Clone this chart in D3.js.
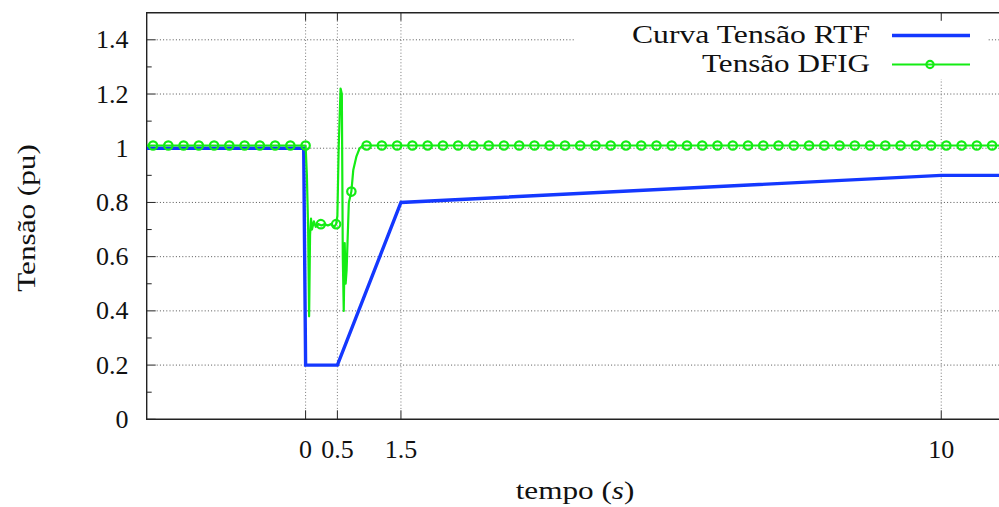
<!DOCTYPE html>
<html>
<head>
<meta charset="utf-8">
<script src="https://cdn.jsdelivr.net/npm/d3@7"></script>
<style>
  body { margin: 0; background: #fff; }
  svg text { font-family: "Liberation Serif", "Times New Roman", serif; fill: #111; }
</style>
</head>
<body>
<div id="chart"></div>
<script>
// RTF curve (blue)
const rtfTime  = [-2.5, -0.03, 0, 0.5, 1.5, 10, 11];
const rtfValue = [1, 1, 0.2, 0.2, 0.8, 0.9, 0.9];

// DFIG voltage (green)
const dfigTime  = [-2.5, 0, 0.02, 0.04, 0.055, 0.07, 0.085, 0.1, 0.13, 0.16, 0.2, 0.25, 0.3, 0.35, 0.4, 0.45, 0.48,
                   0.5, 0.52, 0.55, 0.57, 0.585, 0.6, 0.615, 0.63, 0.645, 0.68, 0.72, 0.75, 0.8, 0.85, 0.9, 11];
const dfigValue = [1.01, 1.01, 0.9, 0.70, 0.38, 0.68, 0.74, 0.70, 0.73, 0.71, 0.72, 0.715, 0.72, 0.715, 0.72, 0.71, 0.72,
                   0.75, 1.0, 1.22, 1.2, 0.6, 0.40, 0.65, 0.5, 0.55, 0.80, 0.84, 0.92, 0.97, 1.0, 1.01, 1.01];

// circle markers on the DFIG curve
const markTime = [-2.4, -2.16, -1.92, -1.68, -1.44, -1.2, -0.96, -0.72, -0.48, -0.24, 0, 0.24, 0.48, 0.72, 0.96,
                  1.2, 1.44, 1.68, 1.92, 2.16, 2.4, 2.64, 2.88, 3.12, 3.36, 3.6, 3.84, 4.08, 4.32, 4.56, 4.8,
                  5.04, 5.28, 5.52, 5.76, 6, 6.24, 6.48, 6.72, 6.96, 7.2, 7.44, 7.68, 7.92, 8.16, 8.4, 8.64,
                  8.88, 9.12, 9.36, 9.6, 9.84, 10.08, 10.32, 10.56, 10.8];
const markValue = markTime.map(function(t) {
  if (t === 0.24 || t === 0.48) return 0.72;
  if (t === 0.72) return 0.84;
  return 1.01;
});

const xTicks = [0, 0.5, 1.5, 10];
const xTickLabels = ["0", "0.5", "1.5", "10"];
const yTicks = [0, 0.2, 0.4, 0.6, 0.8, 1, 1.2, 1.4];
const yTickLabels = ["0", "0.2", "0.4", "0.6", "0.8", "1", "1.2", "1.4"];
const yMinor = [0.1, 0.3, 0.5, 0.7, 0.9, 1.1, 1.3];

const blue = "#1438ff";
const green = "#14ec14";

const W = 999, H = 507;
const pLeft = 146.7, pTop = 12.7, pBottom = 419.3, pRight = 1004.8;

const x = d3.scaleLinear().domain([-2.5, 11]).range([pLeft, pRight]);
const y = d3.scaleLinear().domain([0, 1.5]).range([pBottom, pTop]);

const svg = d3.select("#chart").append("svg")
  .attr("width", W).attr("height", H);

svg.append("defs").append("clipPath").attr("id", "plot")
  .append("rect")
    .attr("x", pLeft).attr("y", pTop)
    .attr("width", pRight - pLeft).attr("height", pBottom - pTop);

// grid
const grid = svg.append("g").attr("class", "grid")
  .attr("stroke", "#555").attr("stroke-width", 1).attr("stroke-dasharray", "1,2.2");
grid.selectAll("line.h").data(yTicks.filter(function(d) { return d > 0; })).enter()
  .append("line").attr("class", "h")
    .attr("x1", pLeft + 10).attr("x2", pRight)
    .attr("y1", function(d) { return y(d); }).attr("y2", function(d) { return y(d); });
grid.selectAll("line.v").data(xTicks).enter()
  .append("line").attr("class", "v")
    .attr("stroke", "#777")
    .attr("y1", pTop + 8).attr("y2", pBottom - 9)
    .attr("x1", function(d) { return x(d); }).attr("x2", function(d) { return x(d); });

// ticks
const ticks = svg.append("g").attr("stroke", "#222").attr("stroke-width", 1);
ticks.selectAll("line.ym").data(yTicks).enter().append("line")
  .attr("x1", pLeft).attr("x2", pLeft + 9)
  .attr("y1", function(d) { return y(d); }).attr("y2", function(d) { return y(d); });
ticks.selectAll("line.yn").data(yMinor).enter().append("line")
  .attr("x1", pLeft).attr("x2", pLeft + 5)
  .attr("y1", function(d) { return y(d); }).attr("y2", function(d) { return y(d); });
ticks.selectAll("line.xb").data(xTicks).enter().append("line")
  .attr("y1", pBottom).attr("y2", pBottom - 9)
  .attr("x1", function(d) { return x(d); }).attr("x2", function(d) { return x(d); });
ticks.selectAll("line.xt").data(xTicks).enter().append("line")
  .attr("y1", pTop).attr("y2", pTop + 8)
  .attr("x1", function(d) { return x(d); }).attr("x2", function(d) { return x(d); });

// frame
svg.append("path")
  .attr("d", `M${pRight},${pTop}H${pLeft}V${pBottom}H${pRight}`)
  .attr("fill", "none").attr("stroke", "#222").attr("stroke-width", 1.4);

// series
const plot = svg.append("g").attr("clip-path", "url(#plot)");

const line = d3.line()
  .x(function(d) { return x(d[0]); })
  .y(function(d) { return y(d[1]); });

plot.append("path")
  .datum(d3.zip(rtfTime, rtfValue))
  .attr("d", line)
  .attr("fill", "none").attr("stroke", blue).attr("stroke-width", 3.4)
  .attr("stroke-linejoin", "miter");

plot.append("path")
  .datum(d3.zip(dfigTime, dfigValue))
  .attr("d", line)
  .attr("fill", "none").attr("stroke", green).attr("stroke-width", 2.2)
  .attr("stroke-linejoin", "round");

plot.selectAll("circle.mk")
  .data(d3.zip(markTime, markValue)).enter()
  .append("circle").attr("class", "mk")
    .attr("cx", function(d) { return x(d[0]); })
    .attr("cy", function(d) { return y(d[1]); })
    .attr("r", 4.2)
    .attr("fill", "none").attr("stroke", green).attr("stroke-width", 2.2);

// tick labels
svg.append("g").selectAll("text").data(yTicks).enter()
  .append("text")
    .attr("x", 128.5)
    .attr("y", function(d) { return y(d) + 8.5; })
    .attr("text-anchor", "end")
    .attr("font-size", 26)
    .text(function(d, i) { return yTickLabels[i]; });

svg.append("g").selectAll("text").data(xTicks).enter()
  .append("text")
    .attr("x", function(d) { return x(d); })
    .attr("y", 458)
    .attr("text-anchor", "middle")
    .attr("font-size", 26)
    .text(function(d, i) { return xTickLabels[i]; });

// axis titles
svg.append("text")
  .attr("transform", "translate(35,218) rotate(-90) scale(1.2,1)")
  .attr("text-anchor", "middle")
  .attr("font-size", 26)
  .text("Tensão (pu)");

const xt = svg.append("text")
  .attr("transform", "translate(575,499) scale(1.2,1)")
  .attr("text-anchor", "middle")
  .attr("font-size", 26);
xt.append("tspan").text("tempo (");
xt.append("tspan").attr("font-style", "italic").text("s");
xt.append("tspan").text(")");

// legend
const legendNames = ["Curva Tensão RTF", "Tensão DFIG"];
const legendWidths = [238, 168];
const legendColors = [blue, green];
const legendStroke = [3.4, 2.2];

svg.append("rect")
  .attr("x", 574).attr("y", 21).attr("width", 413).attr("height", 58)
  .attr("fill", "#fff");

const lg = svg.append("g");
const rows = lg.selectAll("g").data(legendNames).enter().append("g")
  .attr("transform", function(d, i) { return `translate(0, ${35.5 + i * 29})`; });
rows.append("text")
  .attr("x", function(d, i) { return 870 - legendWidths[i]; })
  .attr("y", 7.5)
  .attr("font-size", 26)
  .attr("textLength", function(d, i) { return legendWidths[i]; })
  .attr("lengthAdjust", "spacingAndGlyphs")
  .text(function(d) { return d; });
rows.append("line")
  .attr("x1", 892).attr("x2", 970).attr("y1", 0).attr("y2", 0)
  .attr("stroke", function(d, i) { return legendColors[i]; })
  .attr("stroke-width", function(d, i) { return legendStroke[i]; });
rows.filter(function(d, i) { return i === 1; })
  .append("circle")
    .attr("cx", 930).attr("cy", 0).attr("r", 3.6)
    .attr("fill", "none").attr("stroke", green).attr("stroke-width", 2.2);
</script>
</body>
</html>
